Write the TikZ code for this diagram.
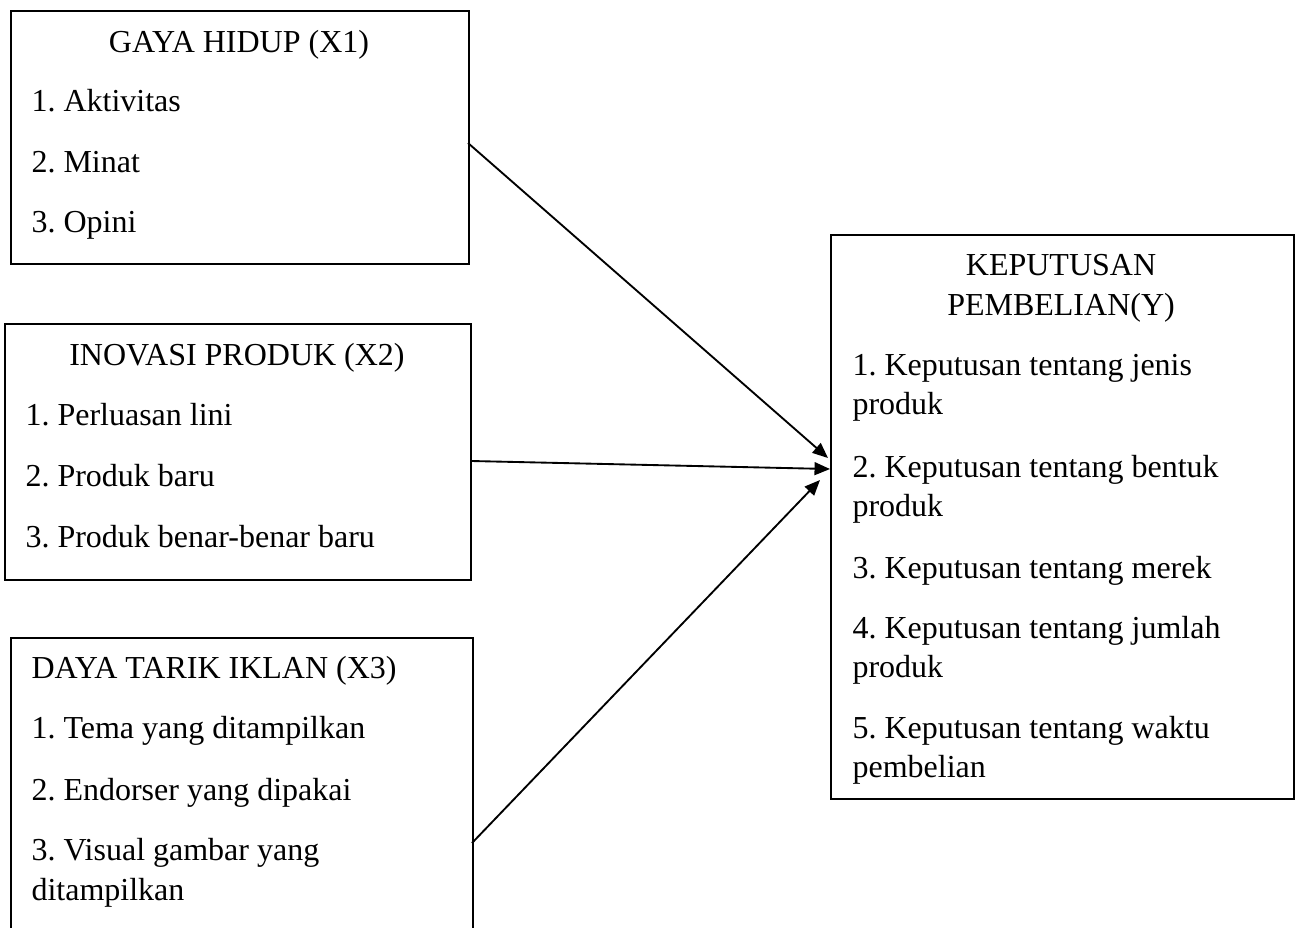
\documentclass[tikz,border=0pt]{standalone}
\usepackage{fontspec}
\setmainfont{Liberation Serif}
\usetikzlibrary{arrows.meta}
\frenchspacing
\begin{document}
\begin{tikzpicture}[x=0.375pt,y=-0.375pt,
  box/.style={draw, line width=0.7pt, anchor=north west, inner sep=0pt},
  txt/.style={anchor=base west, inner sep=0pt, font=\fontsize{12}{14.6}\selectfont},
  ttl/.style={anchor=base, inner sep=0pt, font=\fontsize{12}{14.6}\selectfont},
  conn/.style={line width=0.7pt, -{Triangle[length=5.8pt, width=4.8pt]}}]
\useasboundingbox (0,0) rectangle (1296,927);
\clip (0,0) rectangle (1296,927);
% boxes
\node[box, minimum width=458*0.375pt, minimum height=253*0.375pt] (b1) at (10,10) {};
\node[box, minimum width=466*0.375pt, minimum height=256*0.375pt] (b2) at (4,323) {};
\node[box, minimum width=462*0.375pt, minimum height=320*0.375pt] (b3) at (10,637) {};
\node[box, minimum width=463*0.375pt, minimum height=564*0.375pt] (by) at (830,234) {};
% box 1 texts
\node[ttl] (t1) at (239,52) {GAYA HIDUP (X1)};
\node[txt] (t1a) at (31,111) {1. Aktivitas};
\node[txt] (t1b) at (31,172) {2. Minat};
\node[txt] (t1c) at (31,232) {3. Opini};
% box 2 texts
\node[ttl] (t2) at (237,365) {INOVASI PRODUK (X2)};
\node[txt] (t2a) at (25,425) {1. Perluasan lini};
\node[txt] (t2b) at (25,486) {2. Produk baru};
\node[txt] (t2c) at (25,547) {3. Produk benar-benar baru};
% box 3 texts
\node[txt] (t3) at (31,678) {DAYA TARIK IKLAN (X3)};
\node[txt] (t3a) at (31,738) {1. Tema yang ditampilkan};
\node[txt] (t3b) at (31,800) {2. Endorser yang dipakai};
\node[txt] (t3c) at (31,860) {3. Visual gambar yang};
\node[txt] (t3d) at (31,900) {ditampilkan};
% box Y texts
\node[ttl] (ty1) at (1061,275) {KEPUTUSAN};
\node[ttl] (ty2) at (1061,315) {PEMBELIAN(Y)};
\node[txt] (ya1) at (852,375) {1. Keputusan tentang jenis};
\node[txt] (ya2) at (852,414) {produk};
\node[txt] (yb1) at (852,477) {2. Keputusan tentang bentuk};
\node[txt] (yb2) at (852,516) {produk};
\node[txt] (yc1) at (852,578) {3. Keputusan tentang merek};
\node[txt] (yd1) at (852,638) {4. Keputusan tentang jumlah};
\node[txt] (yd2) at (852,677) {produk};
\node[txt] (ye1) at (852,738) {5. Keputusan tentang waktu};
\node[txt] (ye2) at (852,777) {pembelian};
% connector end points
\coordinate (s1) at (468,143);
\coordinate (e1) at (828,458);
\coordinate (s2) at (472,461);
\coordinate (e2) at (830,469);
\coordinate (s3) at (472,843);
\coordinate (e3) at (820,480);
\draw[conn] (s1) -- (e1);
\draw[conn] (s2) -- (e2);
\draw[conn] (s3) -- (e3);
\end{tikzpicture}
\end{document}
